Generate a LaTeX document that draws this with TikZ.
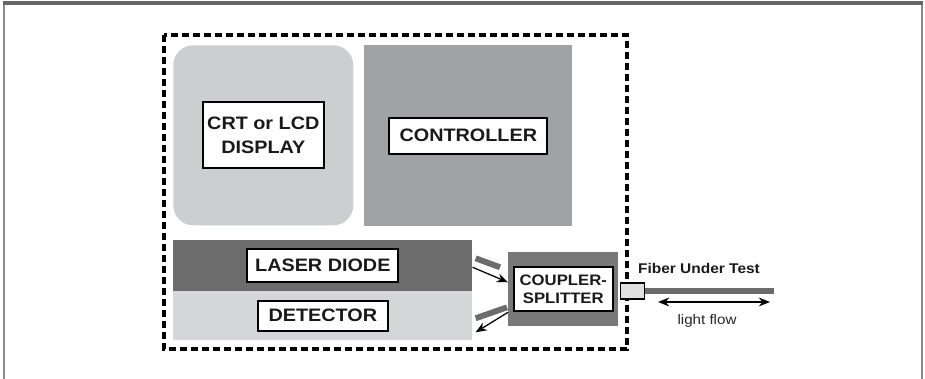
\documentclass[tikz,border=0pt]{standalone}
\usepackage{fontspec}
\newfontfamily\labelfont[FakeStretch=1.1]{Liberation Sans}
\usepackage{tikz}
\usetikzlibrary{arrows.meta,positioning,calc}

\definecolor{dispgray}{HTML}{CBCFD0}
\definecolor{ctrlgray}{HTML}{A0A3A4}
\definecolor{lasergray}{HTML}{6C6C6C}
\definecolor{detgray}{HTML}{D3D7D7}
\definecolor{coupgray}{HTML}{787878}
\definecolor{framegray}{HTML}{8A8A8A}

\begin{document}
\begin{tikzpicture}[
  x=0.025cm, y=-0.025cm,
  block/.style={anchor=north west, inner sep=0pt, draw=none},
  tag/.style={draw, fill=white, line width=1.3pt, inner sep=0pt,
    align=center, text=black!90,
    font=\labelfont\bfseries\fontsize{12.8}{16.8}\selectfont},
  smalltag/.style={tag,
    font=\labelfont\bfseries\fontsize{10.8}{12.2}\selectfont},
  bar/.style={lasergray, line width=4.2pt},
  beam/.style={-{Stealth[length=2.8mm,width=2.2mm]}, line width=0.9pt},
  unitbox/.style={line width=2.5pt, dash pattern=on 0.175cm off 0.1cm},
]
  \useasboundingbox (0,0) rectangle (925,379);
  % outer frame
  \draw[framegray, line width=1.6pt] (4,379) -- (4,3);
  \draw[framegray, line width=1.6pt] (922,3) -- (922,379);
  \draw[black!60, line width=2.4pt] (3,3) -- (923,3);
  % instrument outline
  \draw[unitbox] (164,35) rectangle (627,349);
  % blocks
  \node[block, fill=dispgray, rounded corners=0.5cm,
    minimum width=4.5cm, minimum height=4.5cm] (disp) at (173,45) {};
  \node[block, fill=ctrlgray, minimum width=5.2cm,
    minimum height=4.525cm] (ctrl) at (364,45) {};
  \node[block, fill=lasergray, minimum width=7.475cm,
    minimum height=1.275cm] (laser) at (173,240) {};
  \node[block, fill=detgray, minimum width=7.475cm,
    minimum height=1.225cm] (det) at (173,291) {};
  \node[block, fill=coupgray, minimum width=2.75cm,
    minimum height=1.85cm] (coup) at (508,252) {};
  % labels
  \node[tag, minimum width=3.025cm, minimum height=1.65cm]
    (displbl) at (disp.center) {CRT or LCD\\DISPLAY};
  \node[tag, minimum width=3.95cm, minimum height=0.9cm]
    (ctrllbl) at (ctrl.center) {CONTROLLER};
  \node[tag, minimum width=3.775cm, minimum height=0.825cm]
    (laserlbl) at (laser.center) {LASER DIODE};
  \node[tag, minimum width=3.25cm, minimum height=0.75cm]
    (detlbl) at (det.center) {DETECTOR};
  \node[smalltag, minimum width=2.475cm, minimum height=1.1cm]
    (couplbl) at (coup.center) {COUPLER-\\SPLITTER};
  % light paths
  \draw[bar] ($(laser.east)+(3,-7.5)$) -- ($(coup.west)+(-8,-22)$);
  \draw[beam] ($(laser.east)+(0,1.5)$) -- ($(coup.west)+(0,-7)$);
  \draw[bar] ($(det.east)+(3,2.5)$) -- ($(coup.west)+(-1,18)$);
  \draw[beam] ($(coup.west)+(0,23)$) -- ($(det.east)+(3,16.5)$);
  % fiber
  \node[block, anchor=west, draw, fill=black!12, line width=0.8pt,
    minimum width=0.6cm, minimum height=0.4cm] (conn) at (620,291) {};
  \coordinate (fend) at (774,291);
  \draw[lasergray, line width=4.2pt] (conn.east) -- (fend);
  \node[font=\labelfont\bfseries\fontsize{10}{11}\selectfont,
    text=black!90] (fut) at (699,268) {Fiber Under Test};
  \coordinate (fl1) at (658,302);
  \coordinate (fl2) at (770,302);
  \draw[{Stealth[length=2.8mm,width=2.2mm]}-{Stealth[length=2.8mm,width=2.2mm]},
    line width=0.9pt] (fl1) -- (fl2);
  \node[font=\labelfont\fontsize{9.8}{11}\selectfont, text=black!85]
    (flow) at (707,321) {light flow};
\end{tikzpicture}
\end{document}
